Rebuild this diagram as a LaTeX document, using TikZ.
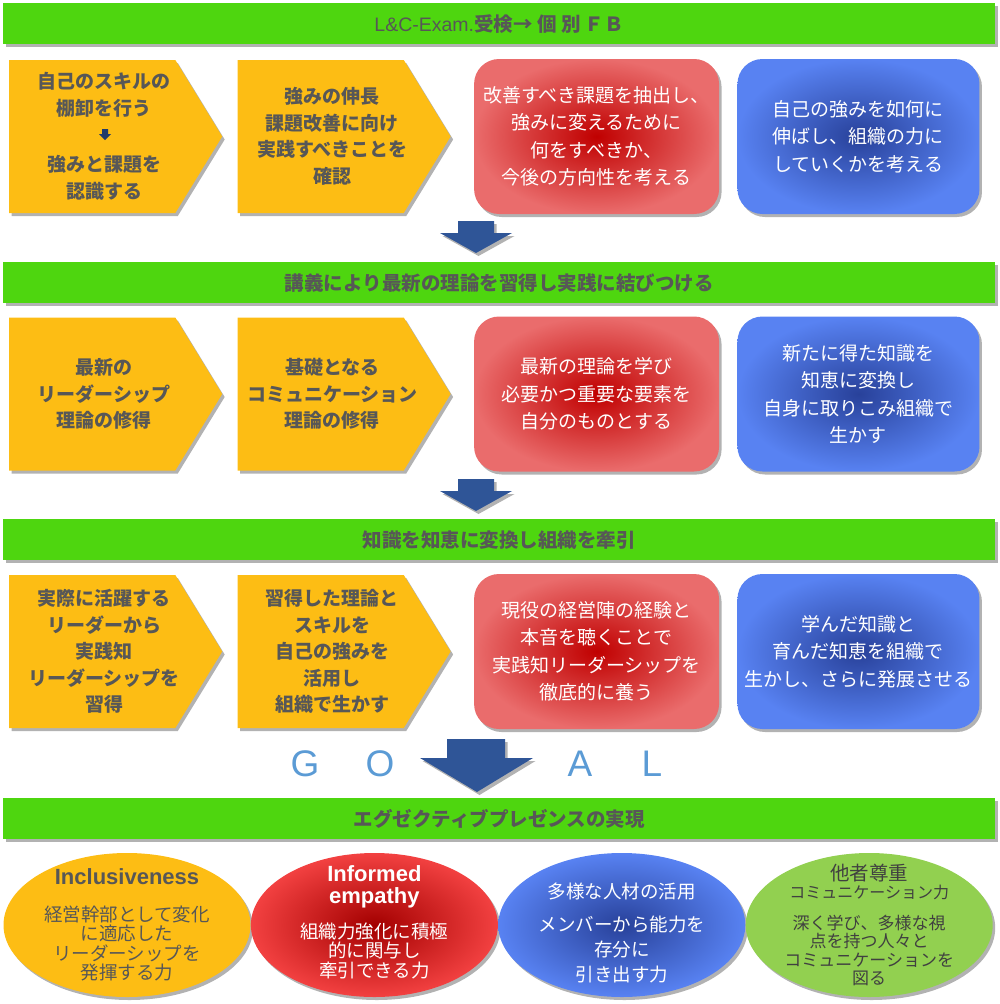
\documentclass[tikz,border=0pt]{standalone}
\usepackage{fontspec}
\setmainfont{Liberation Sans}
\newfontfamily\jp{Noto Sans CJK JP}
\usetikzlibrary{positioning,shapes.geometric,shapes.symbols,shadows}

\definecolor{BarGreen}{HTML}{4ED60F}
\definecolor{StepYellow}{HTML}{FDBD14}
\definecolor{InkGray}{HTML}{575757}
\definecolor{RedCore}{HTML}{C00000}
\definecolor{RedRim}{HTML}{EA6C6C}
\definecolor{BlueCore}{HTML}{28419A}
\definecolor{BlueRim}{HTML}{5882F2}
\definecolor{ArrowBlue}{HTML}{2F5597}
\definecolor{GoalBlue}{HTML}{5B9BD5}
\definecolor{LeafGreen}{HTML}{92D050}

\newcommand\blobtitle{\rmfamily\bfseries\fontsize{22}{21}\selectfont}

\tikzset{
    soft shadow/.style={drop shadow={shadow xshift=2.5pt, shadow yshift=-3pt, opacity=.3, fill=black}},
    bar/.style={fill=BarGreen, minimum width=992, minimum height=41, inner sep=0, anchor=north west,
        soft shadow, text=InkGray, font=\jp\bfseries\fontsize{19.5}{22}\selectfont},
    stepbox/.style={signal, signal to=east, signal pointer angle=117, fill=StepYellow,
        minimum width=213, minimum height=153, inner sep=0, soft shadow},
    steptext/.style={align=center, text=InkGray, font=\jp\bfseries\fontsize{19}{26.5}\selectfont},
    redbox/.style={rounded corners=25, inner color=RedCore, outer color=RedRim,
        minimum width=245, minimum height=155, soft shadow, align=center, text=white,
        font=\jp\fontsize{19}{27.5}\selectfont},
    bluebox/.style={redbox, inner color=BlueCore, outer color=BlueRim, minimum width=242},
    blob/.style={ellipse, minimum width=247, minimum height=144, inner sep=0, soft shadow},
    blobtext/.style={align=center, font=\jp\fontsize{18.5}{19.5}\selectfont},
    goalletter/.style={text=GoalBlue, font=\fontsize{37}{40}\selectfont},
}

\begin{document}
\begin{tikzpicture}[x=1pt, y=-1pt]
    \useasboundingbox (0,0) rectangle (1000,1004);

    \node[bar] (head1) at (3,3) {{\rmfamily\mdseries L\&C-Exam.}受検→ 個 別 ＦＢ};
    \node[bar] (head2) at (3,262) {講義により最新の理論を習得し実践に結びつける};
    \node[bar] (head3) at (3,519) {知識を知恵に変換し組織を牽引};
    \node[bar] (head4) at (3,798) {エグゼクティブプレゼンスの実現};

    % row 1
    \node[stepbox, anchor=west] (exam1) at (9,136.5) {};
    \node[stepbox, right=15pt of exam1] (exam2) {};
    \node[redbox, right=23pt of exam2] (exam3) {改善すべき課題を抽出し、\\強みに変えるために\\何をすべきか、\\今後の方向性を考える};
    \node[bluebox, right=18pt of exam3] (exam4) {自己の強みを如何に\\伸ばし、組織の力に\\していくかを考える};
    \node[steptext] (exam1t) at ([xshift=95pt]exam1.west) {自己のスキルの\\棚卸を行う\\[30pt]強みと課題を\\認識する};
    \node[steptext] (exam2t) at ([xshift=95pt]exam2.west) {強みの伸長\\課題改善に向け\\実践すべきことを\\確認};
    \fill[ArrowBlue!70!black] (102,129) -- (108,129) -- (108,134) -- (111,134) -- (105,140) -- (99,134) -- (102,134) -- cycle;

    \fill[ArrowBlue, soft shadow] (458,221) -- (494,221) -- (494,233) -- (512,233) -- (476,253) -- (440,233) -- (458,233) -- cycle;

    % row 2
    \node[stepbox, anchor=west] (lect1) at (9,394) {};
    \node[stepbox, right=15pt of lect1] (lect2) {};
    \node[redbox, right=23pt of lect2] (lect3) {最新の理論を学び\\必要かつ重要な要素を\\自分のものとする};
    \node[bluebox, right=18pt of lect3] (lect4) {新たに得た知識を\\知恵に変換し\\自身に取りこみ組織で\\生かす};
    \node[steptext] (lect1t) at ([xshift=95pt]lect1.west) {最新の\\リーダーシップ\\理論の修得};
    \node[steptext] (lect2t) at ([xshift=95pt]lect2.west) {基礎となる\\コミュニケーション\\理論の修得};

    \fill[ArrowBlue, soft shadow] (458,479) -- (494,479) -- (494,491) -- (512,491) -- (476,511) -- (440,491) -- (458,491) -- cycle;

    % row 3
    \node[stepbox, anchor=west] (lead1) at (9,651.5) {};
    \node[stepbox, right=15pt of lead1] (lead2) {};
    \node[redbox, right=23pt of lead2] (lead3) {現役の経営陣の経験と\\本音を聴くことで\\実践知リーダーシップを\\徹底的に養う};
    \node[bluebox, right=18pt of lead3] (lead4) {学んだ知識と\\育んだ知恵を組織で\\生かし、さらに発展させる};
    \node[steptext] (lead1t) at ([xshift=95pt]lead1.west) {実際に活躍する\\リーダーから\\実践知\\リーダーシップを\\習得};
    \node[steptext] (lead2t) at ([xshift=95pt]lead2.west) {習得した理論と\\スキルを\\自己の強みを\\活用し\\組織で生かす};

    % goal
    \fill[ArrowBlue, soft shadow] (447,739) -- (505,739) -- (505,758) -- (533,758) -- (477,792) -- (420,758) -- (447,758) -- cycle;
    \foreach \ch/\x in {G/305,O/380,A/580,L/652}
        \node[goalletter] (letter\ch) at (\x,764) {\ch};

    \node[blob, fill=StepYellow] (aim1) at (127,925) {};
    \node[blob, inner color=RedCore!85!black, outer color=RedRim!60!red, right=0pt of aim1] (aim2) {};
    \node[blob, inner color=BlueCore, outer color=BlueRim, right=0pt of aim2] (aim3) {};
    \node[blob, fill=LeafGreen, right=0pt of aim3] (aim4) {};
    \node[blobtext, text=InkGray] (aim1t) at (aim1) {{\blobtitle Inclusiveness}\\[17pt]経営幹部として変化\\に適応した\\リーダーシップを\\発揮する力};
    \node[blobtext, text=white] (aim2t) at ([yshift=3pt]aim2.center) {{\blobtitle Informed}\\[3pt]{\blobtitle empathy}\\[13pt]組織力強化に積極\\的に関与し\\牽引できる力};
    \node[blobtext, text=white, font=\jp\fontsize{18.5}{25}\selectfont] (aim3t) at ([yshift=-8pt]aim3.center) {多様な人材の活用\\[8pt]メンバーから能力を\\存分に\\引き出す力};
    \node[blobtext, text=black!75, font=\jp\fontsize{17}{18.5}\selectfont] (aim4t) at (aim4) {{\fontsize{19.5}{18.5}\selectfont 他者尊重}\\{\fontsize{16}{18.5}\selectfont コミュニケーション力}\\[12pt]深く学び、多様な視\\点を持つ人々と\\コミュニケーションを\\図る};
\end{tikzpicture}
\end{document}
